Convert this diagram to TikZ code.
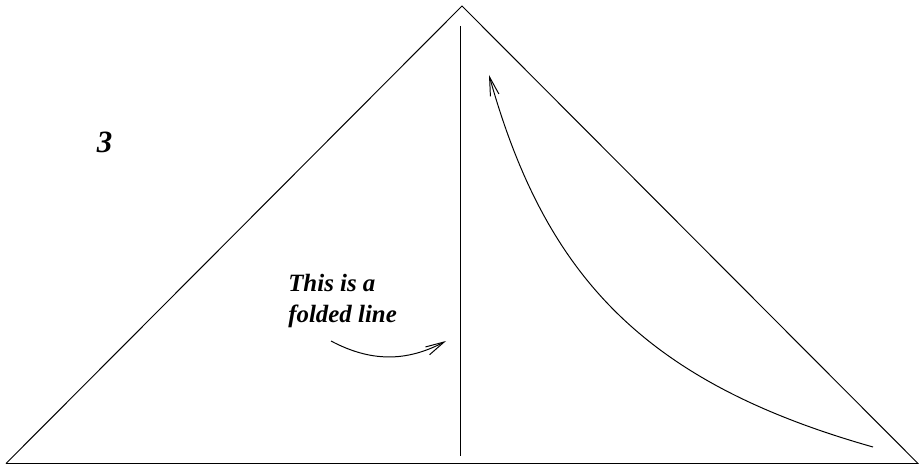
\documentclass[tikz,border=0pt]{standalone}
\usepackage{fontspec}
\setmainfont{Liberation Serif}
\usepackage{tikz}
\usetikzlibrary{arrows.meta}
\usetikzlibrary{positioning}

\tikzset{
    linea/.style={line width=0.7pt},
    freccia/.style={linea, -{Straight Barb[length=0.47cm, width=0.22cm]}},
    scritta/.style={inner sep=0pt, font=\bfseries\itshape\fontsize{17.7}{22}\selectfont}
}

\begin{document}
\begin{tikzpicture}[x=0.025cm, y=-0.025cm]
        \useasboundingbox (0,0) rectangle (919,465);

        % Triangolo
        \coordinate (sx) at (6,463.5);
        \coordinate (cima) at (462,6);
        \coordinate (dx) at (918,463.5);
        \draw[linea] (sx) -- (cima) -- (dx) -- (sx);

        % Linea di piega
        \coordinate (piega-su) at (460,26);
        \coordinate (piega-giu) at (460,456);
        \draw[linea] (piega-su) -- (piega-giu);

        % Numero ed etichetta
        \node[scritta, font=\bfseries\itshape\fontsize{22}{26}\selectfont] (tre) at (104.5,142) {3};
        \node[scritta, anchor=north west, align=left] (testo) at (288,274) {This is a\\folded line};

        % Frecce
        \coordinate (p1) at (331,341);
        \coordinate (p2) at (446,341);
        \draw[freccia] (p1) to[bend right=28] (p2);

        \coordinate (q1) at (873,447);
        \coordinate (q2) at (489,75);
        \draw[freccia] (q1) .. controls (643,382) and (545,275) .. (q2);
    \end{tikzpicture}
\end{document}
